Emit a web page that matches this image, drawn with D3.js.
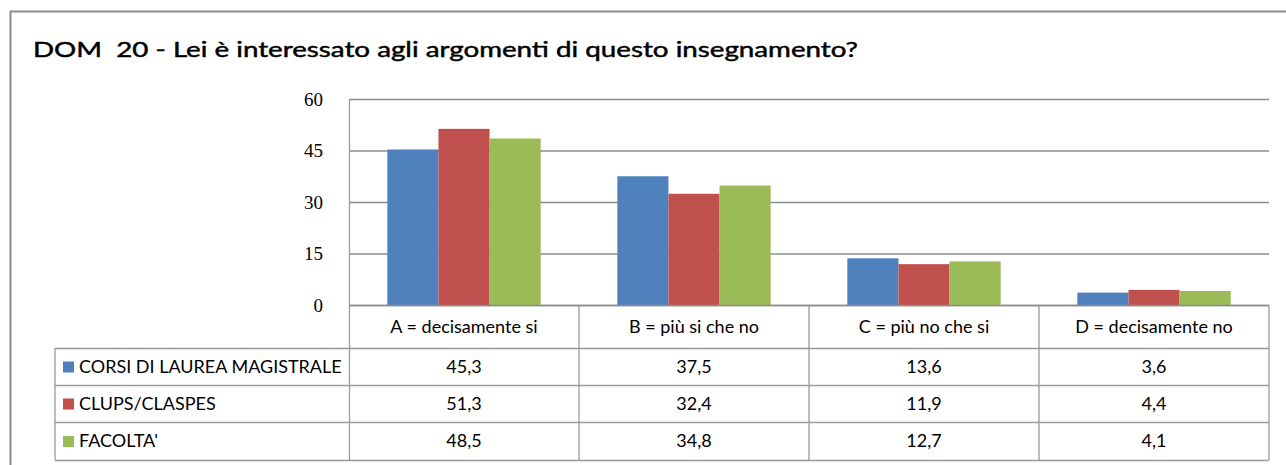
<!DOCTYPE html>
<html>
<head>
<meta charset="utf-8">
<script src="https://cdn.jsdelivr.net/npm/d3@7"></script>
<style>
  body { margin: 0; background: #fff; }
  svg { display: block; }
  text { white-space: pre; }
</style>
</head>
<body>
<div id="chart"></div>
<script>
// chart values
var categories = ['A = decisamente si', 'B = più si che no', 'C = più no che si', 'D = decisamente no'];
var seriesNames = ['CORSI DI LAUREA MAGISTRALE', 'CLUPS/CLASPES', "FACOLTA'"];
var corsiValues = [45.3, 37.5, 13.6, 3.6];
var clupsValues = [51.3, 32.4, 11.9, 4.4];
var facoltaValues = [48.5, 34.8, 12.7, 4.1];
var yTicks = [0, 15, 30, 45, 60];
var colors = ['#4F81BD', '#C0504D', '#9BBB59'];
var title = 'DOM  20 - Lei è interessato agli argomenti di questo insegnamento?';

var series = [corsiValues, clupsValues, facoltaValues].map(function(v, i) {
	return { name: seriesNames[i], values: v, color: colors[i] };
});

var width = 1286,
    height = 465,
    plot = { left: 349, right: 1269, top: 99, bottom: 305 },
    tableLeft = 55,
    rowEdges = [305, 348, 385, 422, 460];

var itFormat = d3.formatLocale({ decimal: ',', thousands: '.', grouping: [3], currency: ['€', ''] }).format('.1f');

var svg = d3.select('#chart').append('svg')
	.attr('width', width)
	.attr('height', height);

// outer frame
svg.append('path')
	.attr('d', 'M10.5,' + (height + 2) + 'V11.5H' + (width + 2))
	.attr('fill', 'none')
	.attr('stroke', '#8c8c8c')
	.attr('stroke-width', 2);

svg.append('text')
	.attr('x', 33).attr('y', 57)
	.attr('font-family', 'Lato, "Open Sans", sans-serif')
	.attr('font-size', 21)
	.attr('fill', '#000')
	.attr('stroke', '#000')
	.attr('stroke-width', 0.45)
	.attr('textLength', 825)
	.attr('lengthAdjust', 'spacingAndGlyphs')
	.text(title);

var x = d3.scaleBand().domain(categories).range([plot.left, plot.right]);
var x1 = d3.scaleBand().domain(d3.range(series.length))
	.range([0, x.bandwidth()]).paddingOuter(0.75).paddingInner(0);
var y = d3.scaleLinear().domain([0, 60]).range([plot.bottom, plot.top]);

// gridlines + tick labels
var yAxis = svg.append('g')
	.attr('transform', 'translate(' + plot.left + ',0)')
	.call(d3.axisLeft(y).tickValues(yTicks).tickSize(-(plot.right - plot.left)).tickPadding(0).tickFormat(d3.format('d')));
yAxis.select('.domain').remove();
yAxis.selectAll('.tick line').attr('stroke', '#8c8c8c').attr('stroke-width', 1.3);
yAxis.selectAll('.tick text')
	.attr('x', -26)
	.attr('font-family', '"Liberation Serif", serif')
	.attr('font-size', 19)
	.attr('fill', '#000');

// bars
var groups = svg.append('g').selectAll('g')
	.data(series).enter().append('g')
	.attr('fill', function(d) { return d.color; });

groups.each(function(s, si) {
	d3.select(this).selectAll('rect')
		.data(s.values).enter().append('rect')
		.attr('x', function(d, i) { return x(categories[i]) + x1(si); })
		.attr('y', function(d) { return y(d); })
		.attr('width', x1.bandwidth())
		.attr('height', function(d) { return y(0) - y(d); });
});

// zero line + left edge
svg.append('line')
	.attr('x1', plot.left).attr('x2', plot.right)
	.attr('y1', plot.bottom + 0.5).attr('y2', plot.bottom + 0.5)
	.attr('stroke', '#8c8c8c').attr('stroke-width', 1.3);

// data table
var table = svg.append('g')
	.attr('stroke', '#9a9a9a')
	.attr('stroke-width', 1.3)
	.attr('fill', 'none');

table.append('line')
	.attr('x1', plot.left + 0.5).attr('x2', plot.left + 0.5)
	.attr('y1', plot.top).attr('y2', rowEdges[4]);
table.append('line')
	.attr('x1', tableLeft).attr('x2', tableLeft)
	.attr('y1', rowEdges[1]).attr('y2', rowEdges[4]);
table.selectAll('.hline').data(rowEdges.slice(1)).enter().append('line')
	.attr('x1', tableLeft).attr('x2', plot.right)
	.attr('y1', function(d) { return d + 0.5; }).attr('y2', function(d) { return d + 0.5; });
table.selectAll('.vline').data(categories).enter().append('line')
	.attr('x1', function(d) { return x(d) + x.bandwidth(); })
	.attr('x2', function(d) { return x(d) + x.bandwidth(); })
	.attr('y1', rowEdges[0]).attr('y2', rowEdges[4]);

var tfont = 'Lato, "Open Sans", sans-serif';
var tsize = 18;

svg.append('g').selectAll('text')
	.data(categories).enter().append('text')
	.attr('x', function(d) { return x(d) + x.bandwidth() / 2; })
	.attr('y', (rowEdges[0] + rowEdges[1]) / 2 + 6)
	.attr('text-anchor', 'middle')
	.attr('font-family', tfont)
	.attr('font-size', tsize)
	.text(function(d) { return d; });

var rows = svg.append('g').selectAll('g')
	.data(series).enter().append('g')
	.attr('transform', function(d, i) { return 'translate(0,' + (rowEdges[i + 1] + rowEdges[i + 2]) / 2 + ')'; });

rows.append('rect')
	.attr('x', 63).attr('y', -5)
	.attr('width', 11).attr('height', 11)
	.attr('fill', function(d) { return d.color; });

rows.append('text')
	.attr('x', 79).attr('y', 6)
	.attr('font-family', tfont)
	.attr('font-size', tsize)
	.text(function(d) { return d.name; });

rows.selectAll('.val')
	.data(function(d) { return d.values; }).enter().append('text')
	.attr('x', function(d, i) { return x(categories[i]) + x.bandwidth() / 2; })
	.attr('y', 6)
	.attr('text-anchor', 'middle')
	.attr('font-family', tfont)
	.attr('font-size', tsize)
	.text(function(d) { return itFormat(d); });
</script>
</body>
</html>
